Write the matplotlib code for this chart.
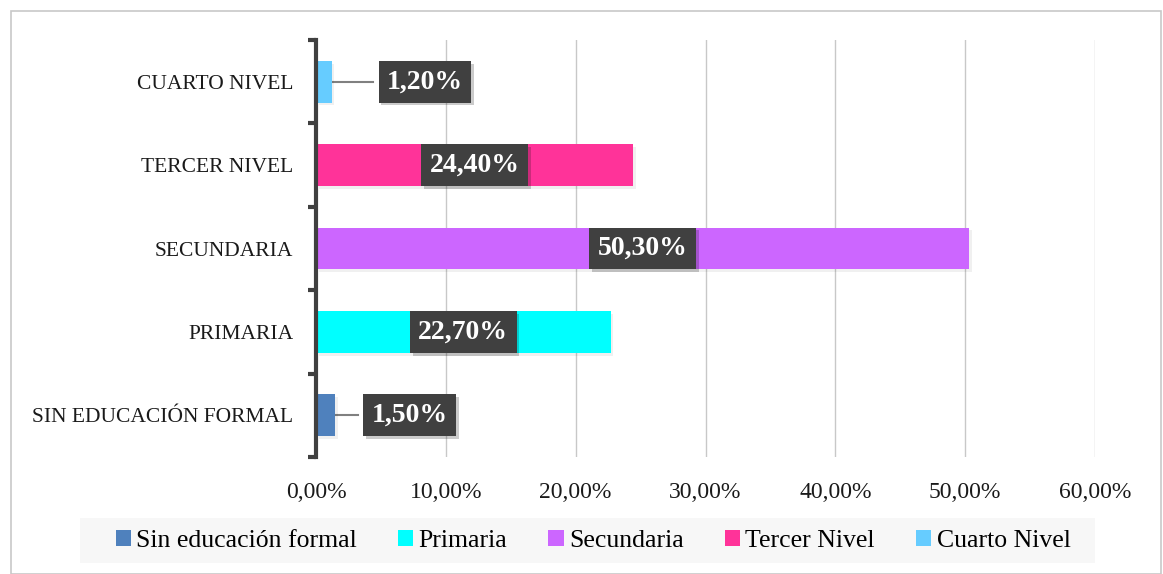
import matplotlib
matplotlib.use("Agg")
import matplotlib.pyplot as plt
import matplotlib.patheffects as pe
from matplotlib.patches import Rectangle
from matplotlib.ticker import FuncFormatter, FixedLocator

categories = ["SIN EDUCACIÓN FORMAL", "PRIMARIA", "SECUNDARIA", "TERCER NIVEL", "CUARTO NIVEL"]
legend_names = ["Sin educación formal", "Primaria", "Secundaria", "Tercer Nivel", "Cuarto Nivel"]
values = [1.5, 22.7, 50.3, 24.4, 1.2]
colors = ["#4F81BD", "#00FFFF", "#CC66FF", "#FF3399", "#66CCFF"]
xticks = [0, 10, 20, 30, 40, 50, 60]

W, H = 1163, 574
fig = plt.figure(figsize=(W / 100, H / 100), dpi=100)
fig.patch.set_facecolor("white")

# outer border
fig.add_artist(Rectangle((11 / W, 0), (1161 - 11) / W, 1 - 11 / H, transform=fig.transFigure,
                         fill=False, edgecolor="#C8C8C8", linewidth=1.2))

ax = fig.add_axes([316 / W, 1 - 457 / H, (1095 - 316) / W, (457 - 40) / H])
ax.set_xlim(0, 60)
ax.set_ylim(-0.5, len(categories) - 0.5)

shadow = [pe.SimplePatchShadow(offset=(2, -2), shadow_rgbFace="#000000", alpha=0.06), pe.Normal()]
bars = ax.barh(range(len(categories)), values, height=0.5, color=colors, zorder=3)
for b in bars:
    b.set_path_effects(shadow)

ax.xaxis.set_major_locator(FixedLocator(xticks))
ax.xaxis.set_major_formatter(FuncFormatter(lambda v, p: f"{v:.2f}%".replace(".", ",")))
ax.grid(axis="x", color="#C8C8C8", linewidth=1.0, zorder=0)
ax.tick_params(axis="x", length=0, pad=18, labelsize=17, labelcolor="#1a1a1a")
for t in ax.get_xticklabels():
    t.set_fontfamily("Liberation Serif")

ax.set_yticks([i for i in range(len(categories))])
ax.set_yticklabels(categories, fontsize=15.5, fontfamily="Liberation Serif", color="#1a1a1a")
ax.yaxis.set_minor_locator(FixedLocator([i - 0.5 for i in range(len(categories) + 1)]))
ax.tick_params(axis="y", which="major", length=0, pad=16.5)
ax.tick_params(axis="y", which="minor", length=6, width=3, color="#404040")

for s in ["top", "right", "bottom"]:
    ax.spines[s].set_visible(False)
ax.spines["left"].set_linewidth(3)
ax.spines["left"].set_color("#404040")
ax.spines["left"].set_zorder(4)

# data labels
label_x = {0: 7.2, 4: 8.4}
box_shadow = [pe.SimplePatchShadow(offset=(2, -2), alpha=0.22), pe.Normal()]
for i, v in enumerate(values):
    txt = f"{v:.2f}%".replace(".", ",")
    if i in label_x:
        lx = label_x[i]
        ax.plot([v, lx - 4], [i, i], color="#808080", linewidth=1.5, zorder=2)
    else:
        lx = v / 2
    t = ax.text(lx, i, txt, ha="center", va="center", color="white", fontsize=20,
                fontweight="bold", fontfamily="Liberation Serif", zorder=6,
                bbox=dict(boxstyle="square,pad=0.3", facecolor="#404040", edgecolor="none"))
    t.get_bbox_patch().set_path_effects(box_shadow)

# legend
fig.add_artist(Rectangle((80 / W, 1 - 563 / H), (1095 - 80) / W, 45 / H, transform=fig.transFigure,
                         facecolor="#F7F7F7", edgecolor="none", zorder=0))
handles = [Rectangle((0, 0), 1, 1, facecolor=c) for c in colors]
leg = fig.legend(handles, legend_names, loc="center", bbox_to_anchor=(593 / W, 1 - 541 / H),
                 ncol=5, frameon=False, prop={"family": "Liberation Serif", "size": 18.5},
                 handlelength=0.6, handleheight=0.6, handletextpad=0.2, columnspacing=1.6)

fig.savefig("out.png", dpi=100)
